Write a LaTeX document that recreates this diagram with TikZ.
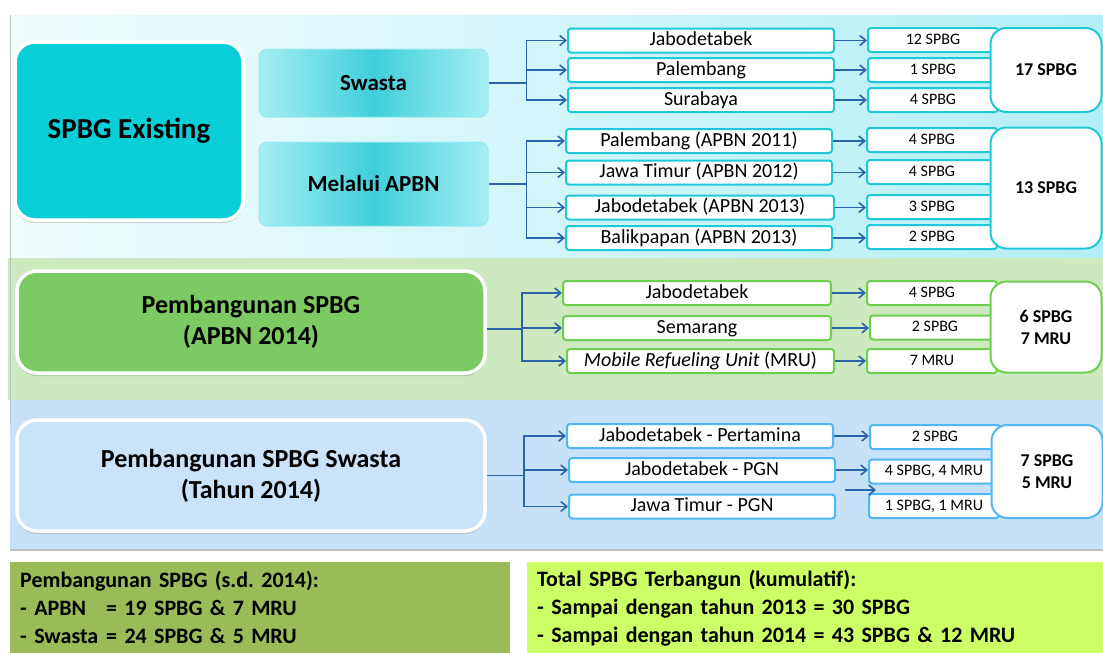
\documentclass[tikz,border=0pt]{standalone}
\usepackage{fontspec}
\setmainfont{Carlito}
\usetikzlibrary{arrows.meta,positioning,calc,shadows}

\definecolor{bandL}{HTML}{F0FCFD}
\definecolor{bandR}{HTML}{B3EFF6}
\definecolor{existfill}{HTML}{0ACFD8}
\definecolor{submid}{HTML}{3FCFDA}
\definecolor{subside}{HTML}{A6EEF4}
\definecolor{subedge}{HTML}{9BE9F0}
\definecolor{cyanline}{HTML}{1EC8D6}
\definecolor{greenband}{HTML}{CDE9C0}
\definecolor{greenfill}{HTML}{7DCA63}
\definecolor{greenline}{HTML}{6CCF4E}
\definecolor{blueband}{HTML}{C6E1F8}
\definecolor{bluefill}{HTML}{C9E3FA}
\definecolor{blueline}{HTML}{4FB8F4}
\definecolor{linkblue}{HTML}{2B64A8}
\definecolor{olivebox}{HTML}{9BBB59}
\definecolor{limebox}{HTML}{CCFF66}

\begin{document}
\begin{tikzpicture}[
    x=1pt, y=-1pt,
    >={Straight Barb[length=6pt,width=10pt]},
    conn/.style={draw=linkblue, line width=1.6pt},
    arr/.style={conn, ->},
    mainbox/.style={draw=white, line width=3.5pt, rounded corners=20pt, align=flush center,
        font=\bfseries\fontsize{26}{31}\selectfont,
        drop shadow={opacity=0.3, shadow xshift=0pt, shadow yshift=-3pt}},
    subbox/.style={draw=subedge, line width=1pt, rounded corners=8pt,
        left color=subside, right color=subside, middle color=submid,
        minimum width=229pt, font=\bfseries\fontsize{23}{26}\selectfont},
    city/.style={fill=white, line width=2pt, rounded corners=3pt, minimum width=266pt, minimum height=24pt,
        inner sep=0pt, text height=14pt, text depth=4pt, anchor=west, font=\fontsize{20}{22}\selectfont},
    cnt/.style={fill=white, line width=2pt, rounded corners=3pt, minimum width=130pt, minimum height=24pt,
        inner sep=0pt, text height=11pt, text depth=3pt, anchor=west, font=\fontsize{16}{18}\selectfont},
    total/.style={fill=white, line width=2pt, rounded corners=16pt, minimum width=111pt, align=flush center,
        font=\bfseries\fontsize{18}{22}\selectfont},
    sumbox/.style={anchor=north west, minimum height=91pt, align=left, inner xsep=10pt, inner ysep=8pt,
        font=\bfseries\fontsize{22}{28}\selectfont}
]
    \useasboundingbox (0,0) rectangle (1103,653);

    % bands
    \shade[left color=bandL, right color=bandR] (10,15) rectangle (1103,258);
    \fill[greenband] (8,258) rectangle (1103,400);
    \fill[blueband] (10,400) rectangle (1103,550);
    \draw[black!25, line width=1pt] (10.5,15) -- (10.5,423);
    \draw[black!25, line width=1.5pt] (10,550) -- (1103,550);

    \node[mainbox, fill=existfill, minimum width=228pt, minimum height=178pt,
          font=\bfseries\fontsize{29}{34}\selectfont] (exist) at (129,131) {SPBG Existing};
    \node[subbox, minimum height=68pt] (swasta) at (373.5,83) {Swasta};
    \node[subbox, minimum height=84pt] (apbn) at (373.5,184) {Melalui APBN};

    \node[mainbox, fill=greenfill, minimum width=468pt, minimum height=102pt] (gmain) at (251,322)
        {Pembangunan SPBG\\(APBN 2014)};
    \node[mainbox, fill=bluefill, minimum width=468pt, minimum height=111pt] (bmain) at (251,475.5)
        {Pembangunan SPBG Swasta\\(Tahun 2014)};

    \node[city, draw=cyanline] (sJab) at (567,40.5) {Jabodetabek};
    \node[city, draw=cyanline] (sPal) at (567,70) {Palembang};
    \node[city, draw=cyanline] (sSur) at (567,100) {Surabaya};

    \node[city, draw=cyanline] (aPal) at (565,141) {Palembang (APBN 2011)};
    \node[city, draw=cyanline] (aJat) at (565,172.5) {Jawa Timur (APBN 2012)};
    \node[city, draw=cyanline, minimum width=268pt] (aJab) at (565,207.5) {Jabodetabek (APBN 2013)};
    \node[city, draw=cyanline] (aBal) at (565,238) {Balikpapan (APBN 2013)};

    \node[city, draw=greenline, minimum width=268pt] (gJab) at (562,293) {Jabodetabek};
    \node[city, draw=greenline, minimum width=268pt] (gSem) at (562,328) {Semarang};
    \node[city, draw=greenline, minimum width=267pt] (gMru) at (566,361) {\textit{Mobile Refueling Unit} (MRU)};

    \node[city, draw=blueline] (wPer) at (566,436) {Jabodetabek - Pertamina};
    \node[city, draw=blueline] (wPgn) at (568,470) {Jabodetabek - PGN};
    \node[city, draw=blueline] (wJat) at (568,506.5) {Jawa Timur - PGN};

    \node[cnt, draw=cyanline] (sJabN) at (867,40) {12 SPBG};
    \node[cnt, draw=cyanline] (sPalN) at (867,70) {1 SPBG};
    \node[cnt, draw=cyanline] (sSurN) at (867,100) {4 SPBG};
    \node[cnt, draw=cyanline] (aPalN) at (866,140) {4 SPBG};
    \node[cnt, draw=cyanline] (aJatN) at (866,172) {4 SPBG};
    \node[cnt, draw=cyanline] (aJabN) at (866,207) {3 SPBG};
    \node[cnt, draw=cyanline] (aBalN) at (866,237) {2 SPBG};
    \node[cnt, draw=greenline] (gJabN) at (866,293) {4 SPBG};
    \node[cnt, draw=greenline] (gSemN) at (869,327.5) {2 SPBG};
    \node[cnt, draw=greenline] (gMruN) at (866,361) {7 MRU};
    \node[cnt, draw=blueline] (wPerN) at (869,437) {2 SPBG};
    \node[cnt, draw=blueline] (wPgnN) at (868,471.5) {4 SPBG, 4 MRU};
    \node[cnt, draw=blueline] (wJatN) at (868,506) {1 SPBG, 1 MRU};

    \node[total, draw=cyanline, minimum height=84pt] (sTot) at (1046,70) {17 SPBG};
    \node[total, draw=cyanline, minimum height=121pt] (aTot) at (1046,188) {13 SPBG};
    \node[total, draw=greenline, minimum height=91pt] (gTot) at (1046,327) {6 SPBG\\7 MRU};
    \node[total, draw=blueline, minimum height=93pt] (wTot) at (1047,471.5) {7 SPBG\\5 MRU};

    % forks
    \draw[conn] (swasta.east) -- ++(38,0) coordinate (sFork);
    \foreach \c in {sJab,sPal,sSur}
        \draw[arr] (sFork) |- (\c.west);
    \draw[conn] (apbn.east) -- ++(38,0) coordinate (aFork);
    \foreach \c in {aPal,aJat,aJab,aBal}
        \draw[arr] (aFork) |- (\c.west);
    \draw[conn] ($(gmain.east)+(0,7)$) -- ++(35,0) coordinate (gFork);
    \foreach \c in {gJab,gSem,gMru}
        \draw[arr] (gFork) |- (\c.west);
    \draw[conn] (bmain.east) -- ++(37,0) coordinate (wFork);
    \foreach \c in {wPer,wPgn,wJat}
        \draw[arr] (wFork) |- (\c.west);

    \foreach \a in {sJab,sPal,sSur,aPal,aJat,aJab,aBal,gJab,gSem,gMru,wPer,wPgn}
        \draw[arr] (\a.east) -- (\a.east -| \a N.west);

    \coordinate (strayS) at (845,490);
    \coordinate (strayE) at (876,490);
    \draw[arr] (strayS) -- (strayE);

    \node[sumbox, fill=olivebox, text width=480pt] (sumL) at (10,562)
        {Pembangunan SPBG (s.d.\ 2014):\\
         \makebox[86pt][l]{- APBN}= 19 SPBG \& 7 MRU\\
         \makebox[86pt][l]{- Swasta}= 24 SPBG \& 5 MRU};
    \node[sumbox, fill=limebox, text width=556pt] (sumR) at (527,562)
        {Total SPBG Terbangun (kumulatif):\\
         - Sampai dengan tahun 2013 = 30 SPBG\\
         - Sampai dengan tahun 2014 = 43 SPBG \& 12 MRU};

\end{tikzpicture}
\end{document}
